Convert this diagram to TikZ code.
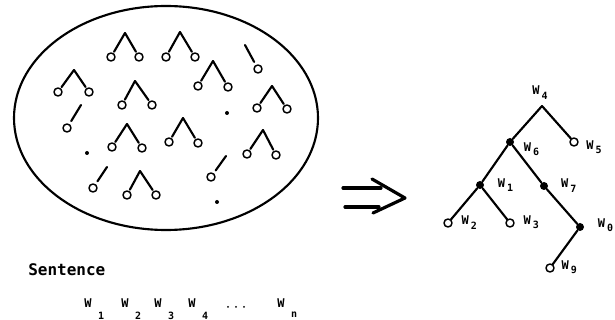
\documentclass[tikz,border=0pt]{standalone}
\usepackage{fontspec}
\setmainfont{DejaVu Sans Mono}
\usetikzlibrary{positioning}

\newcommand\wsub[1]{W\hspace{1.5pt}\raisebox{-3.5pt}{\fontsize{7.5}{7.5}\selectfont #1}}

\begin{document}
\begin{tikzpicture}[x=0.75pt, y=-0.75pt, line cap=round, line join=round,
  leaf/.style={circle, draw, line width=1.1pt, minimum size=6pt, inner sep=0pt},
  knot/.style={circle, fill, minimum size=6pt, inner sep=0pt},
  speck/.style={circle, fill, minimum size=3pt, inner sep=0pt},
  lbl/.style={font=\fontsize{9}{10}\selectfont\bfseries, inner sep=0pt},
  sublbl/.style={font=\fontsize{7.5}{8}\selectfont\bfseries, inner sep=0pt},
  edge/.style={line width=1.6pt, shorten >=1pt}]
  \useasboundingbox (0,0) rectangle (615,320);

  % Pool of partial trees
  \draw[line width=1.6pt] (166,118) ellipse [x radius=114pt, y radius=84pt];
  \foreach \i/\ax/\ay/\lx/\ly/\rx/\ry in {
      1/125/33/111/57/139/57,   2/180/32/166/57/195/57,
      3/74/70/58/92/89/92,      4/135/81/122/105/152/105,
      5/213/61/198/86/228/87,   6/272/86/257/108/287/109,
      7/127/124/112/147/142/148, 8/183/118/169/142/198/143,
      9/263/130/247/154/276/155, 10/140/171/127/195/156/195} {
    \coordinate (top\i) at (\ax,\ay);
    \node[leaf] (left\i) at (\lx,\ly) {};
    \node[leaf] (right\i) at (\rx,\ry) {};
    \draw[edge] (top\i) -- (left\i);
    \draw[edge] (top\i) -- (right\i);
  }
  \foreach \i/\ax/\ay/\lx/\ly in {a/245/45/258/69, b/81/105/67/128,
      c/107/167/93/188, d/226/156/211/177} {
    \coordinate (stub\i) at (\ax,\ay);
    \node[leaf] (single\i) at (\lx,\ly) {};
    \draw[edge, shorten >=2.5pt] (stub\i) -- (single\i);
  }
  \foreach \i/\x/\y in {1/227/113, 2/87/153, 3/217/202}
    \node[speck] (dot\i) at (\x,\y) {};

  % Implies arrow
  \coordinate (tip) at (405,198);
  \draw[line width=2.4pt] (343,188) -- (381,188);
  \draw[line width=2.4pt] (345,207) -- (379,207);
  \draw[line width=2.4pt] (372,179) -- (tip) -- (373,213);

  % Resulting tree
  \coordinate (w4) at (542,106);
  \node[knot] (w6) at (510,142) {};
  \node[leaf] (w5) at (574,142) {};
  \node[knot] (w1) at (480,185) {};
  \node[knot] (w7) at (544,186) {};
  \node[leaf] (w2) at (448,223) {};
  \node[leaf] (w3) at (510,223) {};
  \node[knot] (w0) at (580,227) {};
  \node[leaf] (w9) at (550,268) {};
  \foreach \a/\b in {w4/w6, w4/w5, w6/w1, w6/w7, w1/w2, w1/w3, w7/w0, w0/w9}
    \draw[edge, shorten >=0pt] (\a) -- (\b);
  \node[lbl, above=5pt of w4, xshift=-1.5pt] (lw4) {\wsub{4}};
  \foreach \k/\g/\d in {6/7/-5.5, 5/5.5/-4, 1/10/0, 7/9.5/0.5,
      2/6.5/0.5, 3/6.5/0.5, 0/10/1.3, 9/5/0.5}
    \node[lbl, right=\g pt of w\k, yshift=\d pt] (lw\k) {\wsub{\k}};

  % Sentence
  \node[font=\fontsize{12}{14}\selectfont\bfseries, anchor=west, inner sep=0pt]
    (sentence) at (28,270) {Sentence};
  \foreach \n/\x in {1/88, 2/125, 3/158, 4/192} {
    \node[lbl] (wb\n) at (\x,303) {W};
    \node[sublbl, below right=3pt and 4.5pt of wb\n] (sb\n) {\n};
  }
  \foreach \i/\x in {1/228, 2/236, 3/244}
    \node[speck, minimum size=1.5pt] (gap\i) at (\x,307) {};
  \node[lbl] (wbn) at (281,303) {W};
  \node[sublbl, below right=3pt and 4.5pt of wbn] (sbn) {n};
\end{tikzpicture}
\end{document}
